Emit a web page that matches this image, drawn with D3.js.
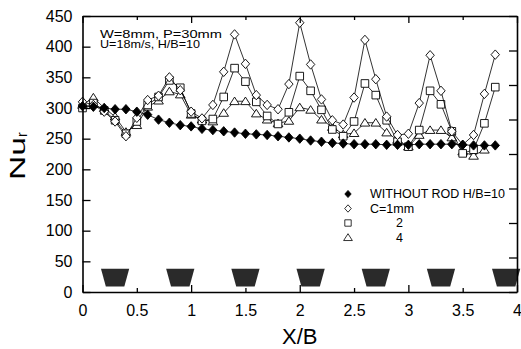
<!DOCTYPE html>
<html lang="en">
<head>
  <meta charset="UTF-8">
  <title>Nu_r vs X/B</title>
  <style>
    html, body {
      margin: 0;
      padding: 0;
      background: #fff;
      overflow: hidden;
    }
    svg {
      display: block;
      font-family: 'Liberation Sans', Arial, sans-serif;
    }
    .axis path, .axis line {
      stroke: #000;
    }
  </style>
</head>
<body>
  <svg id="chart" width="521" height="349"></svg>

  <script src="https://d3js.org/d3.v7.min.js"></script>
  <script>
    // values
    const xb = [0, 0.1, 0.2, 0.3, 0.4, 0.5, 0.6, 0.7, 0.8, 0.9,
                1.0, 1.1, 1.2, 1.3, 1.4, 1.5, 1.6, 1.7, 1.8, 1.9,
                2.0, 2.1, 2.2, 2.3, 2.4, 2.5, 2.6, 2.7, 2.8, 2.9,
                3.0, 3.1, 3.2, 3.3, 3.4, 3.5, 3.6, 3.7, 3.8];
    const withoutRod = [303, 302, 300, 298, 298, 294, 289, 281, 276, 272,
                        270, 266, 264, 262, 260, 258, 257, 256, 254, 252,
                        250, 247, 245, 243, 242, 241, 241, 241, 240, 240,
                        240, 241, 241, 241, 241, 240, 239, 239, 239];
    const c1 = [310, 305, 294, 278, 254, 284, 313, 320, 350, 329,
                294, 283, 305, 359, 420, 372, 321, 305, 298, 339,
                439, 371, 314, 280, 273, 317, 411, 347, 286, 256,
                258, 308, 386, 328, 262, 240, 256, 323, 387];
    const c2 = [300, 308, 296, 280, 258, 278, 305, 318, 345, 333,
                291, 279, 282, 318, 365, 343, 310, 287, 274, 293,
                352, 328, 297, 265, 254, 278, 340, 321, 280, 245,
                237, 264, 328, 306, 262, 226, 232, 275, 334];
    const c4 = [305, 317, 300, 286, 261, 272, 302, 312, 327, 322,
                289, 281, 278, 292, 311, 311, 291, 281, 275, 279,
                301, 297, 281, 269, 257, 259, 276, 276, 260, 248,
                237, 256, 264, 264, 252, 229, 222, 232, null];
    const rodX = [0.3, 0.9, 1.5, 2.1, 2.7, 3.3, 3.9];
    const xTicks = [0, 0.5, 1, 1.5, 2, 2.5, 3, 3.5, 4];
    const yTicks = [0, 50, 100, 150, 200, 250, 300, 350, 400, 450];
    const legendLabels = ["WITHOUT ROD H/B=10", "C=1mm", "2", "4"];
    const noteLines = ["W=8mm, P=30mm", "U=18m/s, H/B=10"];

    // rod shape (data units)
    const rodTop = 38, rodBottom = 9, rodTopW = 0.26, rodBotW = 0.17;

    const svg = d3.select("#chart");
    const plotL = 82.5, plotR = 517, plotT = 16, plotB = 292;

    const x = d3.scaleLinear().domain([0, 4]).range([plotL, plotR]);
    const y = d3.scaleLinear().domain([0, 450]).range([plotB, plotT]);

    // marker shapes
    function shape(kind, r) {
      if (kind === "diamond") return `M0,${-r * 1.12}L${r},0L0,${r * 1.12}L${-r},0Z`;
      if (kind === "square") return `M${-r},${-r}h${2 * r}v${2 * r}h${-2 * r}Z`;
      return `M0,${-r}L${r * 1.15},${r * 0.8}L${-r * 1.15},${r * 0.8}Z`;
    }

    const series = [
      { values: c4, kind: "triangle", fill: "#fff" },
      { values: c2, kind: "square", fill: "#fff" },
      { values: c1, kind: "diamond", fill: "#fff" },
      { values: withoutRod, kind: "diamond", fill: "#000" }
    ];

    // rods
    svg.append("g").selectAll("path")
      .data(rodX)
      .enter()
      .append("path")
      .attr("d", d => `M${x(d - rodTopW / 2)},${y(rodTop)}L${x(d + rodTopW / 2)},${y(rodTop)}` +
                      `L${x(d + rodBotW / 2)},${y(rodBottom)}L${x(d - rodBotW / 2)},${y(rodBottom)}Z`)
      .attr("fill", "#2a2a2a");

    // lines + markers
    const line = d3.line()
      .x(d => x(d[0]))
      .y(d => y(d[1]));

    series.forEach(s => {
      const pts = xb.map((v, i) => [v, s.values[i]]).filter(d => d[1] != null);
      const g = svg.append("g");
      g.append("path")
        .datum(pts)
        .attr("d", line)
        .attr("fill", "none")
        .attr("stroke", "#000")
        .attr("stroke-width", 0.8);
      g.selectAll("path.mark")
        .data(pts)
        .enter()
        .append("path")
        .classed("mark", true)
        .attr("transform", d => `translate(${x(d[0])},${y(d[1])})`)
        .attr("d", shape(s.kind, s.kind === "square" ? 3.8 : 4.2))
        .attr("fill", s.fill)
        .attr("stroke", "#000")
        .attr("stroke-width", 0.9);
    });

    // axes (ticks pointing inward)
    const fmt = d => String(d);
    const xAxis = svg.append("g")
      .attr("class", "axis")
      .attr("transform", `translate(0,${plotB})`)
      .call(d3.axisBottom(x).tickValues(xTicks).tickFormat(fmt).tickSize(-7).tickSizeOuter(0).tickPadding(13));
    xAxis.selectAll(".tick line")
      .attr("y2", d => Number.isInteger(d) ? -7 : -4);

    const xTop = svg.append("g")
      .attr("class", "axis")
      .attr("transform", `translate(0,${plotT})`)
      .call(d3.axisTop(x).tickValues(xTicks).tickFormat("").tickSize(-7).tickSizeOuter(0));
    xTop.selectAll(".tick line")
      .attr("y2", d => Number.isInteger(d) ? 7 : 4);

    svg.append("g")
      .attr("class", "axis")
      .attr("transform", `translate(${plotL},0)`)
      .call(d3.axisLeft(y).tickValues(yTicks).tickFormat(fmt).tickSize(-8).tickSizeOuter(0).tickPadding(10));

    svg.append("g")
      .attr("class", "axis")
      .attr("transform", `translate(${plotR},0)`)
      .call(d3.axisRight(y).tickValues(d3.range(0, 9).map(k => k * 450 / 8)).tickFormat("").tickSize(-8).tickSizeOuter(0));

    svg.selectAll(".axis path.domain").attr("stroke-width", 1.6);
    svg.selectAll(".axis .tick line").attr("stroke-width", 1.3);
    svg.selectAll(".axis text")
      .attr("font-family", "'Liberation Sans', Arial, sans-serif")
      .attr("font-size", 16)
      .attr("fill", "#000");

    // axis titles
    svg.append("text")
      .attr("x", x(2))
      .attr("y", 344)
      .attr("text-anchor", "middle")
      .attr("font-size", 22)
      .text("X/B");

    const yl = svg.append("text")
      .attr("transform", "translate(25,180) rotate(-90)")
      .attr("font-size", 22);
    yl.append("tspan").attr("textLength", 43).attr("lengthAdjust", "spacingAndGlyphs").text("Nu");
    yl.append("tspan").attr("dy", 2).attr("font-size", 14).text("r");

    // annotation
    svg.append("g").selectAll("text")
      .data(noteLines)
      .enter()
      .append("text")
      .attr("x", 100)
      .attr("y", (d, i) => 37.5 + i * 10.5)
      .attr("font-size", 11.5)
      .attr("textLength", (d, i) => i === 0 ? 122 : 100)
      .attr("lengthAdjust", "spacingAndGlyphs")
      .text(d => d);

    // legend
    const legendKinds = [
      { kind: "diamond", fill: "#000", r: 3.2 },
      { kind: "diamond", fill: "#fff", r: 3.3 },
      { kind: "square", fill: "#fff", r: 3.2 },
      { kind: "triangle", fill: "#fff", r: 3.8 }
    ];
    const legend = svg.append("g").attr("transform", "translate(348,198)");
    legendLabels.forEach((lab, i) => {
      const row = legend.append("g").attr("transform", `translate(0,${i * 14.5})`);
      row.append("path")
        .attr("transform", "translate(0,-4)")
        .attr("d", shape(legendKinds[i].kind, legendKinds[i].r))
        .attr("fill", legendKinds[i].fill)
        .attr("stroke", "#000")
        .attr("stroke-width", 0.8);
      row.append("text")
        .attr("x", i < 2 ? 22 : 48)
        .attr("font-size", 12.5)
        .text(lab);
    });
  </script>
</body>
</html>
